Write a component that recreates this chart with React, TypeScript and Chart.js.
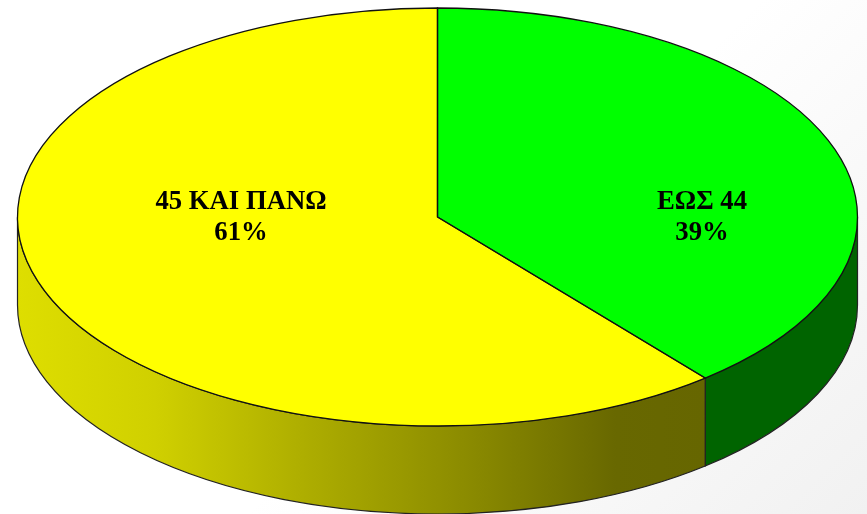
import React, { useEffect, useRef } from "react";
import { Chart, registerables } from "chart.js";

Chart.register(...registerables);

const categories = ["ΕΩΣ 44", "45 ΚΑΙ ΠΑΝΩ"];
const shares = [39, 61];
const topColors = ["#00ff00", "#ffff00"];

const W = 867;
const H = 514;
const CX = 437.5;
const CY = 217;
const RX = 420;
const RY = 209;
const DEPTH = 88;
const labelAnchors = [
  { x: 702, y: 202 },
  { x: 241, y: 202 },
];

function wallFill(ctx: CanvasRenderingContext2D, index: number) {
  if (index === 0) return "#006400";
  const g = ctx.createLinearGradient(18, 0, 705, 0);
  g.addColorStop(0, "#dede00");
  g.addColorStop(0.2, "#d0d000");
  g.addColorStop(0.42, "#adad00");
  g.addColorStop(0.66, "#8a8a00");
  g.addColorStop(0.87, "#686800");
  g.addColorStop(1, "#666600");
  return g;
}

const pie3d = {
  id: "pie3d",
  beforeDatasetsDraw(chart: any) {
    const { ctx } = chart;
    const arcs = chart.getDatasetMeta(0).data;
    ctx.save();
    ctx.lineWidth = 1.2;
    ctx.strokeStyle = "#222";
    arcs.forEach((arc: any, i: number) => {
      const a0 = Math.max(arc.startAngle, 0);
      const a1 = Math.min(arc.endAngle, Math.PI);
      if (a1 <= a0) return;
      ctx.beginPath();
      ctx.ellipse(CX, CY, RX, RY, 0, a0, a1);
      ctx.ellipse(CX, CY + DEPTH, RX, RY, 0, a1, a0, true);
      ctx.closePath();
      ctx.fillStyle = wallFill(ctx, i);
      ctx.fill();
      ctx.stroke();
    });
    ctx.restore();
    const first = arcs[0];
    ctx.save();
    ctx.translate(CX, CY);
    ctx.scale(RX / first.outerRadius, RY / first.outerRadius);
    ctx.translate(-first.x, -first.y);
  },
  afterDatasetsDraw(chart: any) {
    const { ctx } = chart;
    ctx.restore();
    const arcs = chart.getDatasetMeta(0).data;
    ctx.save();
    ctx.lineWidth = 1.3;
    ctx.strokeStyle = "#111";
    arcs.forEach((arc: any) => {
      ctx.beginPath();
      ctx.moveTo(CX, CY);
      ctx.ellipse(CX, CY, RX, RY, 0, arc.startAngle, arc.endAngle);
      ctx.closePath();
      ctx.stroke();
    });
    ctx.fillStyle = "#000";
    ctx.font = 'bold 26.7px "Liberation Serif"';
    ctx.textAlign = "center";
    ctx.textBaseline = "middle";
    categories.forEach((name, i) => {
      const a = labelAnchors[i];
      ctx.fillText(name, a.x, a.y);
      ctx.fillText(`${shares[i]}%`, a.x, a.y + 31);
    });
    ctx.restore();
  },
};

export default function App() {
  const ref = useRef<HTMLCanvasElement>(null);
  useEffect(() => {
    const chart = new Chart(ref.current!, {
      type: "pie",
      data: {
        labels: categories,
        datasets: [{ data: shares, backgroundColor: topColors, borderWidth: 0, radius: RX }],
      },
      options: {
        responsive: false,
        animation: false,
        plugins: { legend: { display: false }, tooltip: { enabled: false } },
      },
      plugins: [pie3d],
    } as any);
    return () => chart.destroy();
  }, []);
  return (
    <div
      style={{
        position: "absolute",
        left: 0,
        top: 0,
        width: W,
        height: H,
        overflow: "hidden",
        background: "linear-gradient(135deg, #ffffff 55%, #f1f1f1 100%)",
      }}
    >
      <canvas ref={ref} width={W} height={H} style={{ display: "block" }} />
    </div>
  );
}
